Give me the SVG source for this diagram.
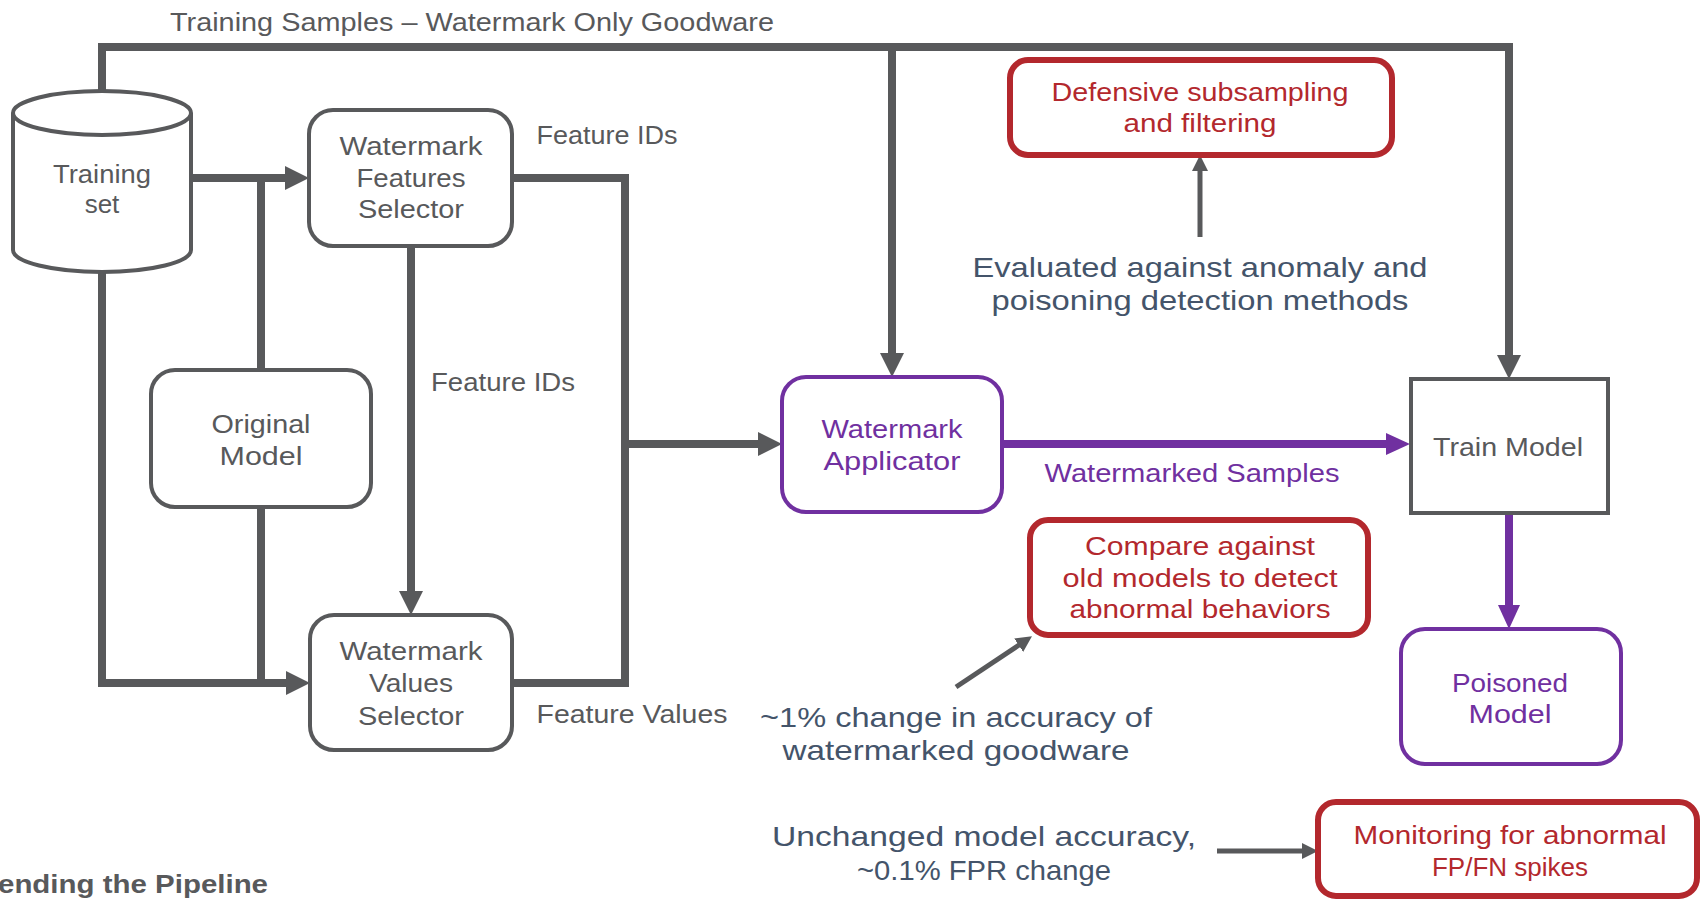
<svg xmlns="http://www.w3.org/2000/svg" width="1700" height="899" viewBox="0 0 1700 899">
<style>
text{font-family:"Liberation Sans",Arial,sans-serif;text-anchor:middle}
.g{fill:#58595B;font-size:26px}
.p{fill:#7030A0;font-size:26px}
.r{fill:#B3282D;font-size:26px}
.b{fill:#44546A;font-size:28px}
.box{fill:#fff;stroke:#58595B;stroke-width:4}
.pbox{fill:#fff;stroke:#7030A0;stroke-width:4}
.rbox{fill:#fff;stroke:#B3282D;stroke-width:6}
.c{fill:none;stroke:#58595B;stroke-width:8}
.cp{fill:none;stroke:#7030A0;stroke-width:8}
.ct{fill:none;stroke:#58595B;stroke-width:5}
</style>
<defs>
<marker id="ag" markerUnits="userSpaceOnUse" markerWidth="24" markerHeight="24" refX="1" refY="12" orient="auto"><path d="M0,0 L24,12 L0,24 z" fill="#58595B"/></marker>
<marker id="ap" markerUnits="userSpaceOnUse" markerWidth="24" markerHeight="24" refX="1" refY="12" orient="auto"><path d="M0,1 L24,12 L0,23 z" fill="#7030A0"/></marker>
<marker id="at" markerUnits="userSpaceOnUse" markerWidth="16" markerHeight="16" refX="4" refY="8" orient="auto"><path d="M0,0 L16,8 L0,16 z" fill="#58595B"/></marker>
</defs>

<text class="g" x="472" y="31" textLength="604" lengthAdjust="spacingAndGlyphs">Training Samples – Watermark Only Goodware</text>

<g id="connectors">
<path class="c" d="M102,92 V47 H1509 V356" marker-end="url(#ag)"/>
<path class="c" d="M892,47 V354" marker-end="url(#ag)"/>
<path class="c" d="M191,178 H286" marker-end="url(#ag)"/>
<path class="c" d="M261,178 V370"/>
<path class="c" d="M261,507 V683"/>
<path class="c" d="M102,270 V683 H287" marker-end="url(#ag)"/>
<path class="c" d="M411,246 V592" marker-end="url(#ag)"/>
<path class="c" d="M512,178 H625 V683 H512"/>
<path class="c" d="M625,444 H759" marker-end="url(#ag)"/>
<path class="cp" d="M1002,444 H1387" marker-end="url(#ap)"/>
<path class="cp" d="M1509,513 V606" marker-end="url(#ap)"/>
<path class="ct" d="M1200,237 V167" marker-end="url(#at)"/>
<path class="ct" d="M956,687 L1022,643" marker-end="url(#at)"/>
<path class="ct" d="M1217,851 H1306" marker-end="url(#at)"/>
</g>

<g id="training-set">
<path class="box" d="M13,113 A89,22 0 0 1 191,113 V250 A89,22 0 0 1 13,250 Z"/>
<path class="box" d="M13,113 A89,22 0 0 0 191,113" fill="none"/>
<text class="g" x="102" y="183" textLength="98" lengthAdjust="spacingAndGlyphs">Training</text>
<text class="g" x="102" y="213">set</text>
</g>

<g id="features-selector">
<rect class="box" x="309" y="110" width="203" height="136" rx="24"/>
<text class="g" x="411" y="155" textLength="143" lengthAdjust="spacingAndGlyphs">Watermark</text>
<text class="g" x="411" y="187" textLength="109" lengthAdjust="spacingAndGlyphs">Features</text>
<text class="g" x="411" y="218" textLength="106" lengthAdjust="spacingAndGlyphs">Selector</text>
</g>

<g id="original-model">
<rect class="box" x="151" y="370" width="220" height="137" rx="24"/>
<text class="g" x="261" y="433" textLength="99" lengthAdjust="spacingAndGlyphs">Original</text>
<text class="g" x="261" y="465" textLength="83" lengthAdjust="spacingAndGlyphs">Model</text>
</g>

<g id="values-selector">
<rect class="box" x="310" y="615" width="202" height="135" rx="24"/>
<text class="g" x="411" y="660" textLength="143" lengthAdjust="spacingAndGlyphs">Watermark</text>
<text class="g" x="411" y="692" textLength="84" lengthAdjust="spacingAndGlyphs">Values</text>
<text class="g" x="411" y="725" textLength="106" lengthAdjust="spacingAndGlyphs">Selector</text>
</g>

<g id="labels">
<text class="g" x="607" y="144" textLength="141" lengthAdjust="spacingAndGlyphs">Feature IDs</text>
<text class="g" x="503" y="391" textLength="144" lengthAdjust="spacingAndGlyphs">Feature IDs</text>
<text class="g" x="632" y="723" textLength="191" lengthAdjust="spacingAndGlyphs">Feature Values</text>
<text class="p" x="1192" y="482" textLength="295" lengthAdjust="spacingAndGlyphs">Watermarked Samples</text>
</g>

<g id="applicator">
<rect class="pbox" x="782" y="377" width="220" height="135" rx="24"/>
<text class="p" x="892" y="438" textLength="141" lengthAdjust="spacingAndGlyphs">Watermark</text>
<text class="p" x="892" y="470" textLength="137" lengthAdjust="spacingAndGlyphs">Applicator</text>
</g>

<g id="train-model">
<rect class="box" x="1411" y="379" width="197" height="134"/>
<text class="g" x="1508" y="456" textLength="150" lengthAdjust="spacingAndGlyphs">Train Model</text>
</g>

<g id="poisoned-model">
<rect class="pbox" x="1401" y="629" width="220" height="135" rx="24"/>
<text class="p" x="1510" y="692" textLength="116" lengthAdjust="spacingAndGlyphs">Poisoned</text>
<text class="p" x="1510" y="723" textLength="83" lengthAdjust="spacingAndGlyphs">Model</text>
</g>

<g id="defensive">
<rect class="rbox" x="1010" y="60" width="382" height="95" rx="18"/>
<text class="r" x="1200" y="101" textLength="297" lengthAdjust="spacingAndGlyphs">Defensive subsampling</text>
<text class="r" x="1200" y="132" textLength="153" lengthAdjust="spacingAndGlyphs">and filtering</text>
</g>

<g id="evaluated">
<text class="b" x="1200" y="277" textLength="455" lengthAdjust="spacingAndGlyphs">Evaluated against anomaly and</text>
<text class="b" x="1200" y="310" textLength="417" lengthAdjust="spacingAndGlyphs">poisoning detection methods</text>
</g>

<g id="compare">
<rect class="rbox" x="1030" y="520" width="338" height="115" rx="18"/>
<text class="r" x="1200" y="555" textLength="230" lengthAdjust="spacingAndGlyphs">Compare against</text>
<text class="r" x="1200" y="587" textLength="275" lengthAdjust="spacingAndGlyphs">old models to detect</text>
<text class="r" x="1200" y="618" textLength="261" lengthAdjust="spacingAndGlyphs">abnormal behaviors</text>
</g>

<g id="accuracy-note">
<text class="b" x="956" y="727" textLength="392" lengthAdjust="spacingAndGlyphs">~1% change in accuracy of</text>
<text class="b" x="956" y="760" textLength="347" lengthAdjust="spacingAndGlyphs">watermarked goodware</text>
</g>

<g id="monitoring">
<rect class="rbox" x="1318" y="802" width="379" height="94" rx="18"/>
<text class="r" x="1510" y="844" textLength="313" lengthAdjust="spacingAndGlyphs">Monitoring for abnormal</text>
<text class="r" x="1510" y="876">FP/FN spikes</text>
</g>

<g id="unchanged-note">
<text class="b" x="984" y="846" textLength="424" lengthAdjust="spacingAndGlyphs">Unchanged model accuracy,</text>
<text class="b" x="984" y="880" textLength="254" lengthAdjust="spacingAndGlyphs">~0.1% FPR change</text>
</g>

<text x="-2" y="893" style="text-anchor:start;font-weight:bold;font-size:25px;fill:#58595B" textLength="270" lengthAdjust="spacingAndGlyphs">ending the Pipeline</text>
</svg>
